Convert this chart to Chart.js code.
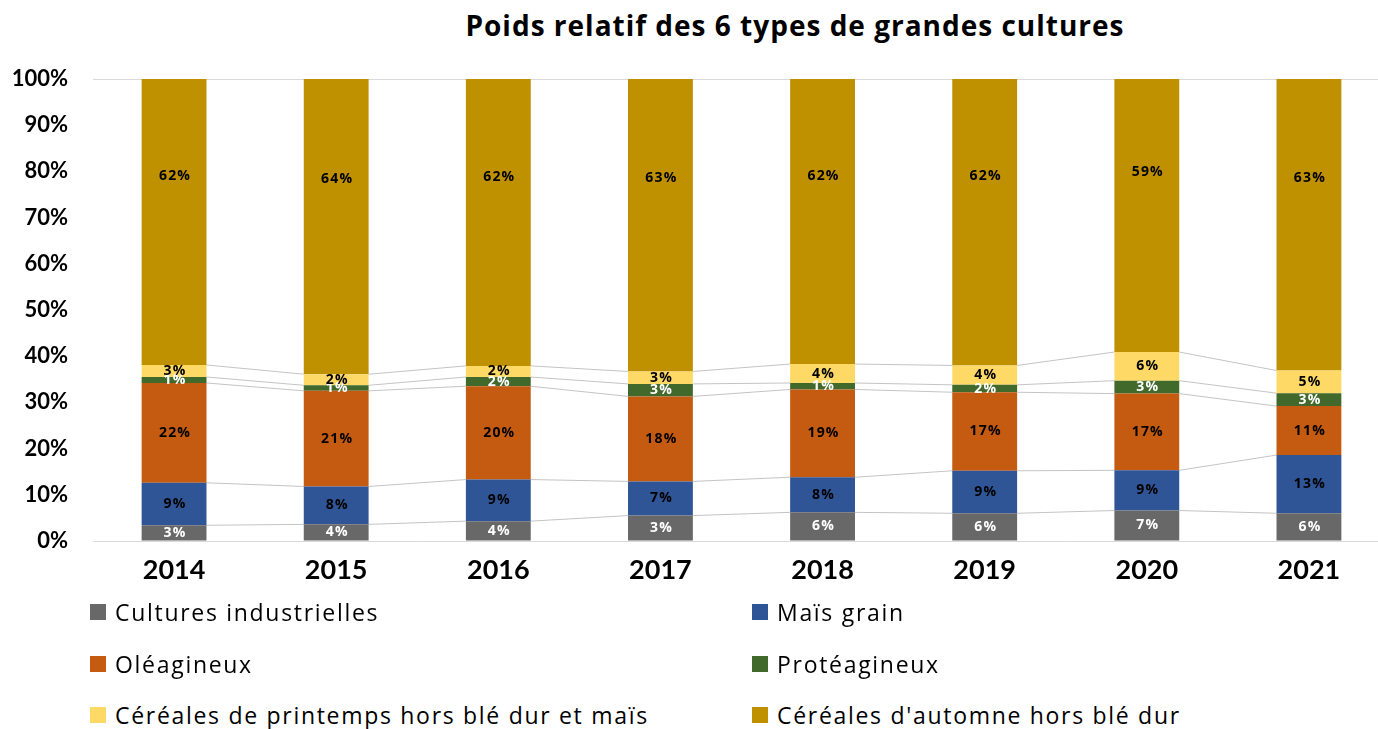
<!DOCTYPE html>
<html lang="fr">
<head>
<meta charset="utf-8">
<title>Poids relatif des 6 types de grandes cultures</title>
<script src="https://cdn.jsdelivr.net/npm/chart.js@4.4.1/dist/chart.umd.min.js"></script>
<style>
    html, body { margin: 0; padding: 0; background: #fff; overflow: hidden; }
    body { width: 1378px; height: 729px; position: relative; font-family: "Open Sans", sans-serif; }
    #title {
        position: absolute; left: 0; width: 1590px; top: 6px;
        text-align: center; font-weight: bold; font-size: 28px; letter-spacing: 1px; color: #000;
    }
    #chart-box { position: absolute; left: 0; top: 0; width: 1392px; height: 600px; }
    #legend { position: absolute; left: 90px; top: 596px; width: 1280px; }
    .legend-item {
        position: absolute; display: flex; align-items: center;
        font-size: 23px; letter-spacing: 1.7px; color: #000; white-space: nowrap;
    }
    .legend-item span.box { width: 16px; height: 16px; margin-right: 9px; display: inline-block; }
</style>
</head>
<body>
<div id="title">Poids relatif des 6 types de grandes cultures</div>
<div id="chart-box"><canvas id="cultures" width="1392" height="600"></canvas></div>
<div id="legend"></div>

<script>
// Data (share of each crop type, %)
const years = ['2014', '2015', '2016', '2017', '2018', '2019', '2020', '2021'];
const industrielles = [3.4, 3.6, 4.3, 5.5, 6.2, 6.0, 6.6, 6.0];
const maisGrain     = [9.2, 8.2, 9.0, 7.4, 7.6, 9.2, 8.7, 12.6];
const oleagineux    = [21.6, 20.7, 20.2, 18.4, 19.0, 17.0, 16.6, 10.6];
const proteagineux  = [1.3, 1.2, 2.0, 2.7, 1.4, 1.6, 2.8, 2.8];
const printemps     = [2.6, 2.4, 2.4, 2.7, 4.1, 4.2, 6.2, 4.9];
const automne       = [61.9, 63.9, 62.1, 63.3, 61.7, 62.0, 59.1, 63.1];
// labels as printed on the industrial segments
const industriellesLabels = [3, 4, 4, 3, 6, 6, 7, 6];
const yTicks = [0, 10, 20, 30, 40, 50, 60, 70, 80, 90, 100];

const series = [
    { label: 'Cultures industrielles', data: industrielles, color: '#686868', text: '#fff' },
    { label: 'Maïs grain', data: maisGrain, color: '#2f5597', text: '#000' },
    { label: 'Oléagineux', data: oleagineux, color: '#c55a11', text: '#000' },
    { label: 'Protéagineux', data: proteagineux, color: '#41692c', text: '#fff' },
    { label: 'Céréales de printemps hors blé dur et maïs', data: printemps, color: '#ffd966', text: '#000' },
    { label: "Céréales d'automne hors blé dur", data: automne, color: '#bf9000', text: '#000' }
];

// Excel-style series lines between stacked segments
const seriesLines = {
    id: 'seriesLines',
    beforeDatasetsDraw(chart) {
        const ctx = chart.ctx;
        ctx.save();
        ctx.strokeStyle = '#c4c4c4';
        ctx.lineWidth = 1;
        for (let d = 0; d < chart.data.datasets.length - 1; d++) {
            const bars = chart.getDatasetMeta(d).data;
            ctx.beginPath();
            for (let i = 0; i < bars.length - 1; i++) {
                const a = bars[i], b = bars[i + 1];
                ctx.moveTo(a.x + a.width / 2, a.y);
                ctx.lineTo(b.x - b.width / 2, b.y);
            }
            ctx.stroke();
        }
        ctx.restore();
    }
};

// Value labels inside the segments
const segmentLabels = {
    id: 'segmentLabels',
    afterDatasetsDraw(chart) {
        const ctx = chart.ctx;
        const last = chart.data.datasets.length - 1;
        ctx.save();
        ctx.font = 'bold 14px "Open Sans"';
        ctx.letterSpacing = '1.2px';
        ctx.textAlign = 'center';
        ctx.textBaseline = 'middle';
        chart.data.datasets.forEach((ds, d) => {
            chart.getDatasetMeta(d).data.forEach((bar, i) => {
                const v = d === 0 ? industriellesLabels[i] : Math.round(ds.data[i]);
                const h = bar.base - bar.y;
                const y = d === last ? bar.y + h * 0.34 : bar.y + h / 2;
                ctx.fillStyle = series[d].text;
                ctx.fillText(v + '%', bar.x + 1, y);
            });
        });
        ctx.restore();
    }
};

const ctx = document.getElementById('cultures').getContext('2d');
const chart = new Chart(ctx, {
    type: 'bar',
    data: {
        labels: years,
        datasets: series.map(s => ({
            label: s.label,
            data: s.data,
            backgroundColor: s.color,
            borderWidth: 0,
            barPercentage: 0.4,
            categoryPercentage: 1
        }))
    },
    options: {
        responsive: false,
        animation: false,
        layout: { padding: { top: 79, right: 2, left: 0, bottom: 0 } },
        plugins: {
            legend: { display: false },
            tooltip: { enabled: false }
        },
        scales: {
            x: {
                stacked: true,
                grid: { display: false, drawTicks: false },
                border: { color: '#d9d9d9' },
                ticks: {
                    color: '#000',
                    padding: 13,
                    font: { family: 'Lato', weight: 'bold', size: 27 }
                },
                afterFit: scale => { scale.height = 59; }
            },
            y: {
                stacked: true,
                min: 0,
                max: 100,
                afterBuildTicks: scale => { scale.ticks = yTicks.map(v => ({ value: v })); },
                grid: {
                    drawTicks: false,
                    color: c => (c.tick && c.tick.value === 100 ? '#d9d9d9' : 'rgba(0,0,0,0)')
                },
                border: { display: false },
                ticks: {
                    color: '#000',
                    padding: 25,
                    font: { family: 'Lato', weight: 'bold', size: 22 },
                    callback: v => v + '%'
                },
                afterFit: scale => { scale.width = 93; }
            }
        }
    },
    plugins: [seriesLines, segmentLabels]
});

// Two-column legend below the chart
const legend = document.getElementById('legend');
series.forEach((s, i) => {
    const item = document.createElement('div');
    item.className = 'legend-item';
    item.style.left = (i % 2 === 0 ? 0 : 662) + 'px';
    item.style.top = (Math.floor(i / 2) * 51.5) + 'px';
    item.innerHTML = '<span class="box" style="background:' + s.color + '"></span>' + s.label;
    legend.appendChild(item);
});
</script>
</body>
</html>
